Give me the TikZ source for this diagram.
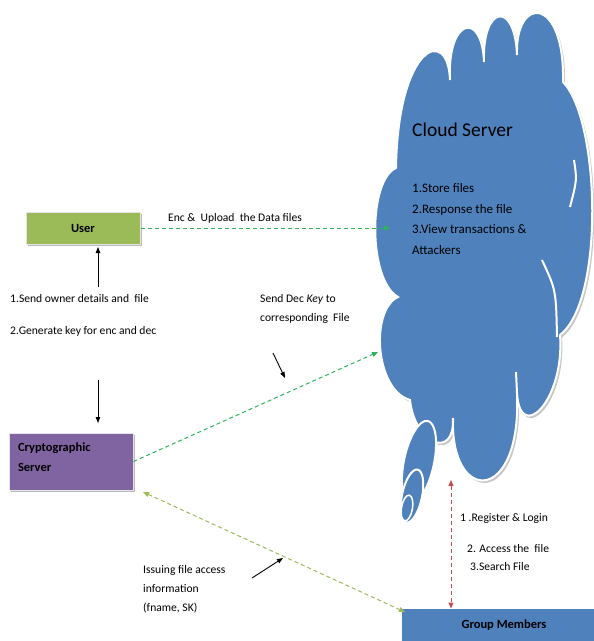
\documentclass[tikz,border=0pt]{standalone}
\usepackage{fontspec}
\setmainfont{Carlito}
\usetikzlibrary{arrows.meta,shadows}

\definecolor{cloudblue}{HTML}{4F81BD}
\definecolor{usergreen}{HTML}{9BBB59}
\definecolor{cryptpurple}{HTML}{8064A2}
\definecolor{linkgreen}{HTML}{2EB35A}
\definecolor{linkred}{HTML}{C0504D}

\begin{document}
\begin{tikzpicture}[x=1pt, y=-1pt, font=\fontsize{11.6}{13}\selectfont,
    box/.style={draw=gray!20, line width=1pt, text=black,
      drop shadow={shadow xshift=1.5pt, shadow yshift=-2pt, fill=gray!55, opacity=1},
      font=\bfseries\fontsize{12.5}{20}\selectfont},
    lbl/.style={anchor=west, inner sep=0, align=left},
    flow/.style={dash pattern=on 4pt off 3pt, line width=1pt},
    tip/.style={-{Triangle[length=6pt,width=5pt]}},
    ptr/.style={line width=0.9pt, -{Triangle[length=6pt,width=4.5pt]}}]
  \useasboundingbox (0,0) rectangle (594,641);

  % cloud
  \path[fill=cloudblue, draw=white, line width=2pt,
        preaction={fill=black!22, transform canvas={xshift=2pt, yshift=-2.5pt}}]
    (396,168) .. controls (398,45) and (448,25) .. (450,80)
    .. controls (447,18) and (482,10) .. (484,62)
    .. controls (482,5) and (515,0) .. (517,55)
    .. controls (515,-5) and (565,-5) .. (563,82)
    .. controls (600,120) and (605,300) .. (560,335)
    .. controls (565,400) and (520,445) .. (517,393)
    .. controls (522,505) and (450,505) .. (453,418)
    .. controls (455,460) and (415,445) .. (410,400)
    .. controls (375,390) and (370,310) .. (398,297)
    .. controls (368,280) and (368,180) .. (396,168) -- cycle;
  \draw[white, line width=2pt] (574,160) .. controls (577,180) .. (570,207);
  \draw[white, line width=2pt] (542,260) .. controls (556,290) .. (557,337);
  \draw[white, line width=2pt] (517,393) -- (516,372);
  \draw[fill=cloudblue, draw=white, line width=2pt, rotate around={-12:(419,462)}]
    (419,462) ellipse [x radius=15, y radius=42];
  \draw[fill=cloudblue, draw=white, line width=2pt, rotate around={-12:(412,496)}]
    (412,496) ellipse [x radius=10, y radius=27];
  \draw[fill=cloudblue, draw=white, line width=1.5pt, rotate around={-10:(407,508)}]
    (407,508) ellipse [x radius=5.5, y radius=13];

  \node[lbl, font=\fontsize{19.5}{22}\selectfont] (CS) at (412,130) {Cloud Server};
  \node[lbl, font=\fontsize{13}{20.7}\selectfont] (CSL) at (412,219)
    {1.Store files\\2.Response the file\\3.View transactions \&\\Attackers};

  % boxes
  \node[box, fill=usergreen, minimum width=114pt, minimum height=32pt] (U) at (83,228) {User};
  \node[box, fill=cryptpurple, minimum width=124pt, minimum height=57pt,
        text width=106pt, align=left, inner xsep=9pt] (C) at (71,461.5)
        {Cryptographic\\Server\rule[-9pt]{0pt}{0pt}};
  \node[box, draw=none, fill=cloudblue, minimum width=204pt, minimum height=32pt] (G) at (504,625) {Group Members};

  % labels
  \node[lbl] (Lup) at (168,218) {Enc \&\ \ Upload\ \ the Data files};
  \node[lbl] (L1) at (10,299) {1.Send owner details and\ \ file};
  \node[lbl] (L2) at (10,331) {2.Generate key for enc and dec};
  \node[lbl, font=\fontsize{11.6}{19}\selectfont] (Lkey) at (260,308.5)
    {Send Dec \textit{Key} to\\corresponding\ \ File};
  \node[lbl, font=\fontsize{11.6}{19}\selectfont] (Liss) at (143,589)
    {Issuing file access\\information\\(fname, SK)};
  \node[lbl] (Lreg) at (460,518) {1 .Register \&\ Login};
  \node[lbl] (Lacc) at (467,549) {2. Access the\ \ file};
  \node[lbl] (Lsrc) at (470,567) {3.Search File};

  % connectors
  \coordinate (cu) at (390,228);
  \coordinate (ck) at (378,352);
  \coordinate (ci) at (143,492);
  \coordinate (gi) at (405,612);
  \coordinate (rl) at (451,480);
  \coordinate (a1) at (98,287);
  \coordinate (a2) at (98,247);
  \coordinate (b1) at (98,380);
  \coordinate (b2) at (98,423);
  \coordinate (p1) at (273,353);
  \coordinate (p2) at (285,378);
  \coordinate (q1) at (252,578);
  \coordinate (q2) at (283,558);

  \draw[flow, tip, linkgreen] (U.east) -- (cu);
  \draw[flow, tip, linkgreen] (C.east) -- (ck);
  \draw[flow, usergreen, {Triangle[length=6pt,width=5pt]}-{Triangle[length=6pt,width=5pt]}] (ci) -- (gi);
  \draw[flow, linkred, {Triangle[length=6pt,width=5pt]}-{Triangle[length=6pt,width=5pt]}] (rl) -- (rl |- G.north);
  \draw[ptr] (a1) -- (a2);
  \draw[ptr] (b1) -- (b2);
  \draw[ptr] (p1) -- (p2);
  \draw[ptr] (q1) -- (q2);
\end{tikzpicture}
\end{document}
